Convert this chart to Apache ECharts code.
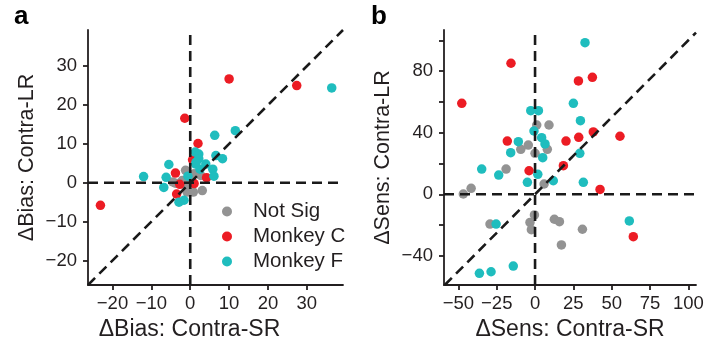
<!DOCTYPE html>
<html>
<head>
<meta charset="utf-8">
<script src="https://cdn.jsdelivr.net/npm/echarts@6/dist/echarts.min.js"></script>
<style>html,body{margin:0;padding:0;background:#fff}#c{width:710px;height:347px}</style>
</head>
<body>
<div id="c"></div>
<script>
// ---- Panel a: ΔBias ----
const aRange = [-26.3, 39.3];
const aTicks = [-20, -10, 0, 10, 20, 30];
const aNotSig = [[-1.2,3.2],[1.0,2.3],[-3.8,-0.1],[-2.0,0.6],[-0.8,-2.4],[0.8,-2.4],[3.1,-2.0],[2.7,1.9],[-4.5,0.2],[0.3,0.8],[-1.0,-0.8]];
const aMonkeyC = [[10.0,26.7],[27.4,25.0],[-1.4,16.6],[2.0,10.1],[-23.1,-5.8],[-3.8,2.5],[-2.7,-0.4],[-3.5,-2.9],[1.0,-0.2],[4.2,1.3],[0.6,5.9]];
const aMonkeyF = [[36.4,24.4],[11.6,13.4],[6.3,12.2],[-5.5,4.7],[-12.0,1.6],[-6.2,1.4],[-6.8,-1.2],[-2.9,-5.0],[-1.6,-4.5],[1.3,7.9],[2.2,7.4],[2.2,6.2],[1.4,4.8],[4.0,4.8],[5.8,3.5],[6.6,7.0],[8.3,6.2],[6.1,1.7],[-0.6,1.7],[2.5,3.5],[1.5,5.3]];

// ---- Panel b: ΔSens ----
const bXRange = [-59.4, 105];
const bYRange = [-58.9, 106.7];
const bXTicks = [-50, -25, 0, 25, 50, 75, 100];
const bYTicks = [-40, -20, 0, 20, 40, 60, 80, 100];
const bYLabels = [-40, 0, 40, 80];
const bNotSig = [[-46.8,0.2],[-41.7,3.9],[-18.9,16.4],[-9.3,29.2],[-4.4,32.0],[0,26.6],[1.1,45.0],[9.1,45.0],[8.0,29.2],[5.9,6.7],[-0.4,-13.4],[-3.3,-18.3],[-2.4,-23.0],[-29.4,-19.3],[12.6,-16.2],[15.9,-17.8],[30.9,-22.7],[17.2,-32.9]];
const bMonkeyC = [[-47.8,59.1],[-15.7,85.1],[28.3,73.6],[37.4,76.0],[-18.1,34.6],[-3.9,15.3],[20.2,34.6],[28.5,37.0],[38.0,40.5],[55.4,37.7],[18.5,18.6],[42.4,3.2],[64.1,-27.5]];
const bMonkeyF = [[32.6,98.5],[25.0,59.1],[29.6,47.8],[-2.8,54.3],[2.2,54.3],[-0.7,41.1],[4.3,36.8],[6.5,32.7],[5.0,23.8],[-10.9,34.2],[-15.9,27.0],[-34.8,16.4],[-23.7,12.5],[-5.0,7.8],[1.8,13.0],[11.9,8.8],[29.2,26.6],[31.5,7.8],[-25.4,-19.3],[61.5,-17.3],[-36.3,-51.3],[-28.7,-50.3],[-14.2,-46.6]];

const legendNames = ['Not Sig', 'Monkey C', 'Monkey F'];
const colors = ['#939393', '#EC1C24', '#1FBDBE'];

const FONT = 'Liberation Sans, Arial, sans-serif';
const minus = v => String(v).replace('-', '\u2212');

function axis(grid, range, ticks, labels, name, isY, nameGap, namePad) {
  return {
    type: 'value', gridIndex: grid, min: range[0], max: range[1],
    name: name, nameLocation: 'middle', nameGap: nameGap,
    nameTextStyle: { fontFamily: FONT, fontSize: isY ? 21.5 : 23, color: '#231f20', padding: namePad },
    axisLine: { show: true, onZero: false, lineStyle: { color: '#231f20', width: 1.8 } },
    axisTick: { show: true, length: 5, customValues: ticks, lineStyle: { color: '#231f20', width: 1.8 } },
    axisLabel: { customValues: labels, margin: isY ? 11 : 9, fontFamily: FONT, fontSize: 18.5, color: '#231f20', formatter: minus },
    splitLine: { show: false }
  };
}

function scatter(name, data, ci, ai) {
  return { type: 'scatter', name: name, data: data, xAxisIndex: ai, yAxisIndex: ai,
    symbolSize: 9.5, itemStyle: { color: colors[ci], opacity: 1 }, z: 2 + ci * 0.1, silent: true };
}
function refLine(data, ai) {
  return { type: 'line', data: data, xAxisIndex: ai, yAxisIndex: ai, showSymbol: false, symbol: 'none',
    lineStyle: { color: '#1a1a1a', width: 2.6, type: [10, 6] }, z: 5, silent: true, animation: false };
}

const option = {
  animation: false,
  grid: [
    { left: 88, top: 30, width: 255, height: 255, containLabel: false },
    { left: 444, top: 30, width: 252, height: 255, containLabel: false }
  ],
  xAxis: [
    axis(0, aRange, aTicks, aTicks, 'ΔBias: Contra-SR', false, 33, [0, 52, 0, 0]),
    axis(1, bXRange, bXTicks, bXTicks, 'ΔSens: Contra-SR', false, 33, [0, 0, 0, 0])
  ],
  yAxis: [
    axis(0, aRange, aTicks, aTicks, 'ΔBias: Contra-LR', true, 50, [0, 0, 0, 0]),
    axis(1, bYRange, bYTicks, bYLabels, 'ΔSens: Contra-LR', true, 50, [0, 0, 0, 0])
  ],
  legend: {
    data: legendNames, orient: 'vertical', left: 217, top: 196,
    icon: 'circle', itemWidth: 42, itemHeight: 10, itemGap: 4, symbolKeepAspect: true,
    textStyle: { fontFamily: FONT, fontSize: 20.5, color: '#231f20' }
  },
  graphic: [
    { type: 'text', left: 14, top: 4, style: { text: 'a', font: 'bold 26px ' + FONT, fill: '#000' } },
    { type: 'text', left: 371, top: 4, style: { text: 'b', font: 'bold 26px ' + FONT, fill: '#000' } }
  ],
  series: [
    scatter(legendNames[0], aNotSig, 0, 0),
    scatter(legendNames[1], aMonkeyC, 1, 0),
    scatter(legendNames[2], aMonkeyF, 2, 0),
    refLine([[aRange[0], 0], [aRange[1], 0]], 0),
    refLine([[0, aRange[0]], [0, aRange[1]]], 0),
    refLine([[aRange[0], aRange[0]], [aRange[1], aRange[1]]], 0),
    scatter(legendNames[0], bNotSig, 0, 1),
    scatter(legendNames[1], bMonkeyC, 1, 1),
    scatter(legendNames[2], bMonkeyF, 2, 1),
    refLine([[bXRange[0], 0], [bXRange[1], 0]], 1),
    refLine([[0, bYRange[0]], [0, bYRange[1]]], 1),
    refLine([[bYRange[0], bYRange[0]], [bXRange[1], bXRange[1]]], 1)
  ]
};
echarts.init(document.getElementById('c'), null, { renderer: 'canvas' }).setOption(option);
</script>
</body>
</html>
